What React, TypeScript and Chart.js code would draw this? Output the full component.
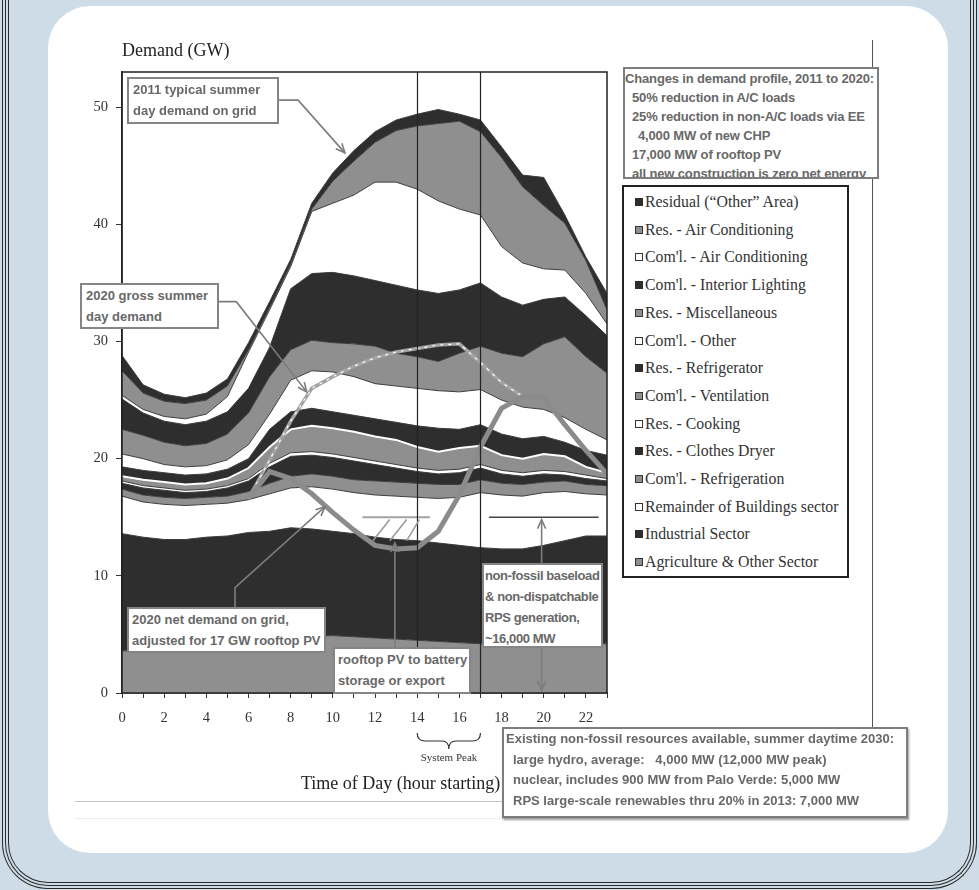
import React, { useEffect, useRef } from "react";
import { Chart, registerables } from "chart.js";

Chart.register(...registerables);

// ---------------- data (GW, 2011 typical summer day, stacked end uses) ----------------
const hours = [0, 1, 2, 3, 4, 5, 6, 7, 8, 9, 10, 11, 12, 13, 14, 15, 16, 17, 18, 19, 20, 21, 22, 23];

const agricultureOther = [3.6, 3.6, 3.6, 3.6, 3.7, 3.8, 4.0, 4.3, 4.6, 4.8, 4.9, 4.8, 4.7, 4.6, 4.5, 4.4, 4.3, 4.2, 4.1, 4.1, 4.1, 4.1, 4.2, 4.2];
const industrialSector = [10.0, 9.7, 9.5, 9.5, 9.6, 9.6, 9.7, 9.5, 9.5, 9.2, 8.9, 8.8, 8.6, 8.5, 8.5, 8.4, 8.3, 8.2, 8.2, 8.2, 8.5, 8.9, 9.2, 9.2];
const remainderBuildings = [3.2, 3.0, 3.0, 2.9, 2.8, 2.8, 2.8, 3.2, 3.4, 3.6, 3.6, 3.5, 3.6, 3.7, 3.7, 3.8, 4.1, 4.7, 4.6, 4.5, 4.5, 4.2, 3.6, 3.5];
const comRefrigeration = [0.6, 0.6, 0.6, 0.6, 0.6, 0.6, 0.7, 0.9, 1.0, 1.1, 1.1, 1.1, 1.2, 1.2, 1.2, 1.2, 1.1, 1.1, 1.0, 1.0, 0.9, 0.9, 0.8, 0.8];
const resClothesDryer = [0.5, 0.6, 0.6, 0.5, 0.5, 0.7, 0.9, 1.4, 1.7, 1.6, 1.6, 1.6, 1.4, 1.2, 1.0, 0.9, 1.0, 1.0, 0.8, 0.7, 0.7, 0.5, 0.5, 0.4];
const resCooking = [0.2, 0.2, 0.2, 0.2, 0.2, 0.2, 0.2, 0.3, 0.3, 0.3, 0.3, 0.3, 0.3, 0.3, 0.3, 0.3, 0.3, 0.3, 0.3, 0.3, 0.3, 0.3, 0.3, 0.2];
const comVentilation = [0.4, 0.5, 0.5, 0.5, 0.5, 0.6, 0.9, 1.4, 2.0, 2.2, 2.2, 2.2, 2.1, 2.1, 1.8, 1.6, 1.8, 1.6, 1.3, 1.2, 1.4, 1.3, 0.7, 0.5];
const resRefrigerator = [0.8, 0.8, 0.8, 0.8, 0.8, 0.8, 0.8, 1.5, 1.5, 1.5, 1.4, 1.4, 1.5, 1.5, 1.8, 2.0, 1.6, 1.8, 1.8, 1.7, 1.5, 1.2, 1.4, 1.5];
const comOther = [1.1, 1.0, 0.7, 0.7, 0.7, 0.8, 1.2, 1.3, 2.7, 3.2, 3.4, 3.3, 3.0, 3.1, 3.2, 3.2, 3.2, 3.0, 2.9, 2.7, 2.3, 2.1, 1.8, 1.3];
const resMiscellaneous = [2.1, 2.0, 1.9, 1.8, 1.9, 2.2, 2.7, 3.2, 2.6, 2.6, 2.5, 2.8, 3.2, 2.8, 2.7, 2.5, 3.3, 3.7, 4.0, 4.3, 5.6, 6.9, 6.2, 5.7];
const comInteriorLighting = [2.6, 1.9, 1.8, 1.8, 1.9, 1.9, 2.1, 2.5, 5.2, 5.7, 6.0, 5.8, 5.6, 5.8, 5.7, 5.8, 5.4, 5.4, 4.8, 4.4, 3.8, 3.4, 3.5, 3.2];
const comAirConditioning = [0.3, 0.3, 0.4, 0.5, 0.6, 1.3, 3.1, 3.2, 1.9, 5.3, 5.9, 6.9, 8.4, 8.8, 8.6, 7.9, 6.9, 5.8, 4.3, 3.6, 2.6, 2.3, 1.9, 1.0];
const resAirConditioning = [2.1, 1.4, 1.3, 1.3, 1.2, 0.9, 0.2, 0.2, 0.2, 0.2, 1.9, 2.9, 3.4, 4.4, 5.4, 6.6, 7.5, 7.1, 7.6, 6.5, 5.4, 4.0, 2.8, 1.2];
const residualOther = [1.3, 0.7, 0.6, 0.5, 0.6, 0.6, 0.6, 0.5, 0.4, 0.5, 0.7, 0.9, 0.9, 0.9, 1.0, 1.2, 0.6, 1.0, 0.9, 1.0, 2.4, 0.7, 0.3, 1.4];

// 2020 profiles (GW)
const profileHours = [6, 7, 8, 9, 10, 11, 12, 13, 14, 15, 16, 17, 18, 19, 20, 21, 22, 23];
const gross2020 = [16.6, 19.9, 23.2, 26.0, 27.0, 27.9, 28.6, 29.1, 29.4, 29.7, 29.8, 28.2, 26.5, 25.3, 25.2, 22.9, 20.7, 18.7];
const net2020 = [16.6, 18.9, 18.3, 17.0, 15.4, 13.9, 12.6, 12.3, 12.4, 13.8, 16.9, 21.0, 24.3, 25.3, 25.2, 22.9, 20.7, 18.7];

// reference levels
const pvStorageHours = [11.4, 14.6];
const pvStorageLevel = [15, 15];
const baseloadHours = [17.4, 22.6];
const baseloadLevel = [15, 15];
const systemPeakHours = [14, 17];

// ticks
const yTickValues = [0, 10, 20, 30, 40, 50];
const xTickLabels = [0, 2, 4, 6, 8, 10, 12, 14, 16, 18, 20, 22];

// series, bottom of the stack first
const seriesValues = [
  agricultureOther, industrialSector, remainderBuildings, comRefrigeration, resClothesDryer,
  resCooking, comVentilation, resRefrigerator, comOther, resMiscellaneous,
  comInteriorLighting, comAirConditioning, resAirConditioning, residualOther,
];
const seriesNames = [
  "Agriculture & Other Sector", "Industrial Sector", "Remainder of Buildings sector", "Com'l. - Refrigeration",
  "Res. - Clothes Dryer", "Res. - Cooking", "Com'l. - Ventilation", "Res. - Refrigerator", "Com'l. - Other",
  "Res. - Miscellaneous", "Com'l. - Interior Lighting", "Com'l. - Air Conditioning", "Res. - Air Conditioning",
  "Residual (\u201COther\u201D Area)",
];
const seriesShade = ["gray", "black", "white", "gray", "black", "white", "gray", "black", "white", "gray", "black", "white", "gray", "black"];

const SHADE: Record<string, string> = { black: "#2e2e2e", gray: "#8f8f8f", white: "#ffffff" };
const SANS = '"Liberation Sans", Arial, sans-serif';
const SERIF = '"Liberation Serif", "Times New Roman", serif';

function drawArrow(ctx: CanvasRenderingContext2D, pts: number[][]) {
  ctx.beginPath();
  ctx.moveTo(pts[0][0], pts[0][1]);
  for (let i = 1; i < pts.length; i++) ctx.lineTo(pts[i][0], pts[i][1]);
  ctx.stroke();
  const [ex, ey] = pts[pts.length - 1];
  const [sx, sy] = pts[pts.length - 2];
  const ang = Math.atan2(ey - sy, ex - sx);
  const L = 10;
  ctx.beginPath();
  ctx.moveTo(ex - L * Math.cos(ang - 0.42), ey - L * Math.sin(ang - 0.42));
  ctx.lineTo(ex, ey);
  ctx.lineTo(ex - L * Math.cos(ang + 0.42), ey - L * Math.sin(ang + 0.42));
  ctx.stroke();
}

const decorPlugin = {
  id: "decor",
  afterDatasetsDraw(chart: any) {
    const { ctx, chartArea: a, scales } = chart;
    const x = scales.x;
    const y = scales.y;
    const px = (h: number) => x.getPixelForValue(h);
    const py = (v: number) => y.getPixelForValue(v);
    ctx.save();

    // system peak verticals
    ctx.strokeStyle = "#222";
    ctx.lineWidth = 1.2;
    systemPeakHours.forEach((h) => {
      const xx = Math.round(px(h)) + 0.5;
      ctx.beginPath();
      ctx.moveTo(xx, a.top);
      ctx.lineTo(xx, a.bottom);
      ctx.stroke();
    });

    // hatch marks under PV line
    ctx.strokeStyle = "#9a9a9a";
    ctx.lineWidth = 1.5;
    [[11.9, 12.7], [12.7, 13.5], [13.5, 14.1]].forEach(([h0, h1]) => {
      ctx.beginPath();
      ctx.moveTo(px(h0), py(13.0));
      ctx.lineTo(px(h1), py(14.8));
      ctx.stroke();
    });

    // annotation arrows (data coordinates)
    ctx.strokeStyle = "#7c7c7c";
    ctx.lineWidth = 1.6;
    const P = (h: number, v: number) => [px(h), py(v)];
    drawArrow(ctx, [P(7.4, 50.6), P(8.35, 50.6), P(10.57, 46.1)]);
    drawArrow(ctx, [P(4.55, 33.4), P(5.42, 33.4), P(8.76, 25.7)]);
    drawArrow(ctx, [P(5.36, 7.2), P(5.36, 9.0), P(9.63, 15.9)]);
    drawArrow(ctx, [P(12.94, 3.9), P(12.94, 12.8)]);
    drawArrow(ctx, [P(19.9, 11.1), P(19.9, 14.8)]);
    drawArrow(ctx, [P(19.9, 3.9), P(19.9, 0.25)]);

    // frame
    ctx.strokeStyle = "#222";
    ctx.lineWidth = 1.5;
    ctx.strokeRect(a.left, a.top, a.right - a.left, a.bottom - a.top);

    // system peak brace
    const x0 = px(systemPeakHours[0]);
    const x1 = px(systemPeakHours[1]);
    const xm = (x0 + x1) / 2;
    const yb = a.bottom + 40;
    const ym = yb + 8;
    const yt = yb + 16;
    ctx.strokeStyle = "#333";
    ctx.lineWidth = 1.2;
    ctx.beginPath();
    ctx.moveTo(x0, yb);
    ctx.quadraticCurveTo(x0, ym, x0 + 8, ym);
    ctx.lineTo(xm - 7, ym);
    ctx.quadraticCurveTo(xm, ym, xm, yt);
    ctx.quadraticCurveTo(xm, ym, xm + 7, ym);
    ctx.lineTo(x1 - 8, ym);
    ctx.quadraticCurveTo(x1, ym, x1, yb);
    ctx.stroke();
    ctx.restore();
  },
};

const textStyle: React.CSSProperties = {
  fontFamily: SANS,
  fontWeight: 700,
  fontSize: 13,
  color: "#686868",
  whiteSpace: "pre",
};

function Box(props: { left: number; top: number; width: number; height: number; lines: string[]; lh: number; pad?: number; indents?: number[]; border?: string; shadow?: boolean; ls?: number }) {
  const { left, top, width, height, lines, lh, pad = 4, indents, border = "2px solid #858585", shadow, ls = 0 } = props;
  return (
    <div
      style={{
        position: "absolute", left, top, width, height, boxSizing: "border-box", border, background: "#fff",
        overflow: "hidden", zIndex: 3, boxShadow: shadow ? "1px 2px 2px #9a9a9a" : undefined,
      }}
    >
      {lines.map((t, i) => (
        <div key={i} style={{ ...textStyle, letterSpacing: ls, position: "absolute", left: pad + (indents ? indents[i] : 0), top: 0 + i * lh, lineHeight: lh + "px" }}>
          {t}
        </div>
      ))}
    </div>
  );
}

export default function App() {
  const canvasRef = useRef<HTMLCanvasElement | null>(null);

  useEffect(() => {
    if (!canvasRef.current) return;
    const areaSets = seriesValues.map((vals, i) => ({
      type: "line" as const,
      label: seriesNames[i],
      data: hours.map((h, j) => ({ x: h, y: vals[j] })),
      yAxisID: "y",
      fill: i === 0 ? "origin" : "-1",
      backgroundColor: SHADE[seriesShade[i]],
      borderColor: seriesNames[i] === "Com'l. - Ventilation" ? "#ffffff" : "#3c3c3c",
      borderWidth: seriesNames[i] === "Com'l. - Ventilation" ? 2 : 1,
      pointRadius: 0,
      tension: 0,
      order: 0,
    }));
    const line = (xs: number[], ys: number[], color: string, width: number, order: number, dash?: number[]) => ({
      type: "line" as const,
      data: xs.map((h, j) => ({ x: h, y: ys[j] })),
      yAxisID: "yo",
      fill: false,
      borderColor: color,
      borderWidth: width,
      borderDash: dash || [],
      pointRadius: 0,
      tension: 0,
      order,
    });
    const chart = new Chart(canvasRef.current, {
      type: "line",
      data: {
        datasets: [
          ...areaSets,
          line(pvStorageHours, pvStorageLevel, "#a2a2a2", 2, -1),
          line(baseloadHours, baseloadLevel, "#444", 1.5, -1),
          line(profileHours, gross2020, "#a3a3a3", 3.5, -2),
          line(profileHours, gross2020, "#ffffff", 1.2, -3, [3, 5]),
          line(profileHours, net2020, "#8b8b8b", 5, -4),
        ] as any,
      },
      options: {
        animation: false,
        responsive: false,
        devicePixelRatio: 1,
        layout: { padding: { top: 72, right: 372, left: 0, bottom: 0 } },
        plugins: { legend: { display: false }, tooltip: { enabled: false } },
        scales: {
          x: {
            type: "linear",
            min: 0,
            max: 23,
            afterFit: (s: any) => { s.height = 197; },
            afterBuildTicks: (s: any) => { s.ticks = hours.map((v) => ({ value: v })); },
            ticks: {
              autoSkip: false,
              maxRotation: 0,
              padding: 11,
              color: "#333",
              font: { family: SERIF, size: 14.5 },
              callback: (v: any) => (xTickLabels.includes(Number(v)) ? String(v) : ""),
            },
            grid: { drawOnChartArea: false, drawTicks: true, tickLength: 5, color: "#333" },
            border: { display: true, color: "#222", width: 1.5 },
          },
          y: {
            type: "linear",
            stacked: true,
            min: 0,
            max: 53,
            afterFit: (s: any) => { s.width = 122; },
            afterBuildTicks: (s: any) => { s.ticks = yTickValues.map((v) => ({ value: v })); },
            ticks: { padding: 8, color: "#333", font: { family: SERIF, size: 14.5 } },
            grid: { drawOnChartArea: false, drawTicks: true, tickLength: 6, color: "#333" },
            border: { display: true, color: "#222", width: 1.5 },
          },
          yo: { type: "linear", display: false, min: 0, max: 53, stacked: false },
        },
      } as any,
      plugins: [decorPlugin],
    });
    return () => chart.destroy();
  }, []);

  const legendItems = seriesNames.map((n, i) => ({ name: n, shade: seriesShade[i] })).reverse();

  return (
    <div style={{ position: "absolute", left: 0, top: 0, width: 979, height: 890, background: "#cddce6", overflow: "hidden" }}>
      {/* outer triple frame */}
      {[0, 3, 6].map((d) => (
        <div
          key={d}
          style={{
            position: "absolute", left: 2 + d, right: 2 + d, top: -60, bottom: 1 + d, border: "1px solid #2a2a2a",
            borderTop: "none", borderBottomLeftRadius: 46 - d, borderBottomRightRadius: 46 - d,
          }}
        />
      ))}
      {/* white panel */}
      <div style={{ position: "absolute", left: 48, top: 6, width: 900, height: 847, background: "#fff", borderRadius: 42 }} />
      {/* figure decorations */}
      <div style={{ position: "absolute", left: 872, top: 40, width: 1, height: 688, background: "#555" }} />
      <div style={{ position: "absolute", left: 75, top: 801, width: 430, height: 1, background: "#c4c4c4" }} />
      <div style={{ position: "absolute", left: 75, top: 818, width: 835, height: 1, background: "#ececec" }} />

      <canvas ref={canvasRef} width={979} height={890} style={{ position: "absolute", left: 0, top: 0, width: 979, height: 890, zIndex: 2 }} />

      <div style={{ position: "absolute", left: 122, top: 40, fontFamily: SERIF, fontSize: 18, color: "#222", zIndex: 3, whiteSpace: "nowrap" }}>Demand (GW)</div>
      <div style={{ position: "absolute", left: 301, top: 773, fontFamily: SERIF, fontSize: 18, color: "#222", zIndex: 3, whiteSpace: "nowrap" }}>Time of Day (hour starting)</div>
      <div style={{ position: "absolute", left: 414, width: 70, textAlign: "center", top: 751, fontFamily: SERIF, fontSize: 11, color: "#333", zIndex: 3, whiteSpace: "nowrap" }}>System Peak</div>

      <Box left={127} top={77} width={152} height={47} lh={21} lines={["2011 typical summer", "day demand on grid"]} />
      <Box left={80} top={283} width={139} height={46} lh={21} lines={["2020 gross summer", "day demand"]} />
      <Box left={127} top={607} width={199} height={46} lh={21} lines={["2020 net demand on grid,", "adjusted for 17 GW rooftop PV"]} pad={3} />
      <Box left={333} top={647} width={138} height={47} lh={21} lines={["rooftop PV to battery", "storage or export"]} pad={3} />
      <Box left={482} top={563} width={121} height={85} lh={21} lines={["non-fossil baseload", "& non-dispatchable", "RPS generation,", "~16,000 MW"]} pad={1} ls={-0.4} />
      <Box
        left={623} top={67} width={256} height={112} lh={19} pad={0} ls={-0.15}
        lines={["Changes in demand profile, 2011 to 2020:", "50% reduction in A/C loads", "25% reduction in non-A/C loads via EE", "4,000 MW of new CHP", "17,000 MW of rooftop PV", "all new construction is zero net energy"]}
        indents={[0, 7, 7, 13, 7, 7]}
        border="2px solid #7d7d7d"
      />
      <Box
        left={502} top={727} width={406} height={91} lh={20.5} pad={2}
        lines={["Existing non-fossil resources available, summer daytime 2030:", "large hydro, average:   4,000 MW (12,000 MW peak)", "nuclear, includes 900 MW from Palo Verde: 5,000 MW", "RPS large-scale renewables thru 20% in 2013: 7,000 MW"]}
        indents={[0, 7, 7, 7]}
        border="2px solid #7d7d7d"
        shadow
      />

      {/* legend */}
      <div style={{ position: "absolute", left: 622, top: 185, width: 227, height: 393, boxSizing: "border-box", border: "2px solid #222", background: "#fff", zIndex: 3 }}>
        {legendItems.map((it, i) => (
          <div key={i} style={{ position: "absolute", left: 11, top: 5 + i * 27.7, height: 20, display: "flex", alignItems: "center", whiteSpace: "nowrap" }}>
            <span
              style={{
                display: "inline-block", width: 8, height: 8, boxSizing: "border-box", marginRight: 2,
                background: SHADE[it.shade], border: it.shade === "black" ? "1px solid #2e2e2e" : "1.5px solid #333",
              }}
            />
            <span style={{ fontFamily: SERIF, fontSize: 15.8, color: "#333", lineHeight: "20px" }}>{it.name}</span>
          </div>
        ))}
      </div>
    </div>
  );
}
